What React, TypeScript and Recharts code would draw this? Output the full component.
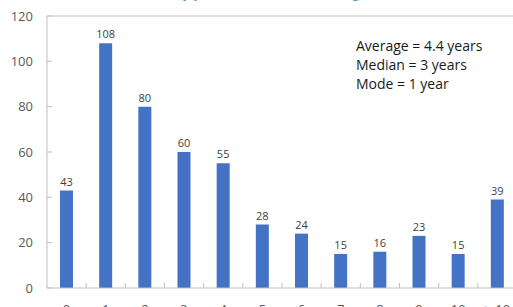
import { Bar, BarChart, LabelList, ReferenceLine, XAxis, YAxis } from "recharts";

const categories = ["0", "1", "2", "3", "4", "5", "6", "7", "8", "9", "10", "> 10"];
const counts = [43, 108, 80, 60, 55, 28, 24, 15, 16, 23, 15, 39];
const yTicks = [0, 20, 40, 60, 80, 100, 120];
const summaryLines = ["Average = 4.4 years", "Median = 3 years", "Mode = 1 year"];
const caption = "(b) Number of listed firms, by years since the last rating)";

const CHART_WIDTH = 530;
const CHART_HEIGHT = 330;
const MARGIN = { top: 16, right: 13, left: 0, bottom: 12 };
const Y_AXIS_WIDTH = 47;
const X_TICK_MARGIN = 17;
const AXIS_COLOR = "#BFBFBF";

const plotWidth = CHART_WIDTH - MARGIN.left - MARGIN.right - Y_AXIS_WIDTH;
const bandWidth = plotWidth / categories.length;

const data = categories.map((category, i) => ({ category, count: counts[i] }));

interface TickProps {
  x?: number;
  y?: number;
  index?: number;
  payload?: { value: string };
}

// Excel-style: labels centred, tick marks between categories pointing up
function CategoryTick({ x = 0, y = 0, index = 0, payload }: TickProps) {
  const axisY = y - X_TICK_MARGIN;
  const sepX = x - bandWidth / 2;
  return (
    <g>
      {index > 0 && <line x1={sepX} x2={sepX} y1={axisY} y2={axisY - 5} stroke={AXIS_COLOR} />}
      <text x={x} y={y} dy="0.71em" textAnchor="middle" fill="#595959" fontSize={13}>
        {payload?.value}
      </text>
    </g>
  );
}

export default function App() {
  return (
    <div
      style={{
        position: "fixed",
        top: 0,
        left: 0,
        width: 513,
        height: 307,
        overflow: "hidden",
        background: "#fff",
        fontFamily: "'Open Sans', 'Noto Sans', sans-serif",
      }}
    >
      <div
        style={{
          position: "absolute",
          left: 0,
          top: -15,
          fontSize: 14,
          lineHeight: "14px",
          color: "#5B9BD5",
          whiteSpace: "nowrap",
        }}
      >
        {caption}
      </div>
      <BarChart width={CHART_WIDTH} height={CHART_HEIGHT} data={data} margin={MARGIN}>
        <ReferenceLine y={120} stroke={AXIS_COLOR} ifOverflow="extendDomain" />
        <XAxis
          dataKey="category"
          interval={0}
          height={30}
          axisLine={{ stroke: AXIS_COLOR }}
          tickLine={false}
          tickSize={0}
          tickMargin={X_TICK_MARGIN}
          tick={<CategoryTick />}
        />
        <YAxis
          width={Y_AXIS_WIDTH}
          domain={[0, 120]}
          ticks={yTicks}
          interval={0}
          axisLine={{ stroke: AXIS_COLOR }}
          tickLine={{ stroke: AXIS_COLOR }}
          tickSize={-5}
          tickMargin={19}
          tick={{ fill: "#595959", fontSize: 13 }}
        />
        <Bar dataKey="count" fill="#4472C4" barSize={13} isAnimationActive={false}>
          <LabelList dataKey="count" position="top" offset={5} fill="#404040" fontSize={11} />
        </Bar>
      </BarChart>
      <div
        style={{
          position: "absolute",
          left: 356,
          top: 36,
          fontSize: 14,
          lineHeight: "19px",
          color: "#1a1a1a",
        }}
      >
        {summaryLines.map((line) => (
          <div key={line}>{line}</div>
        ))}
      </div>
    </div>
  );
}
